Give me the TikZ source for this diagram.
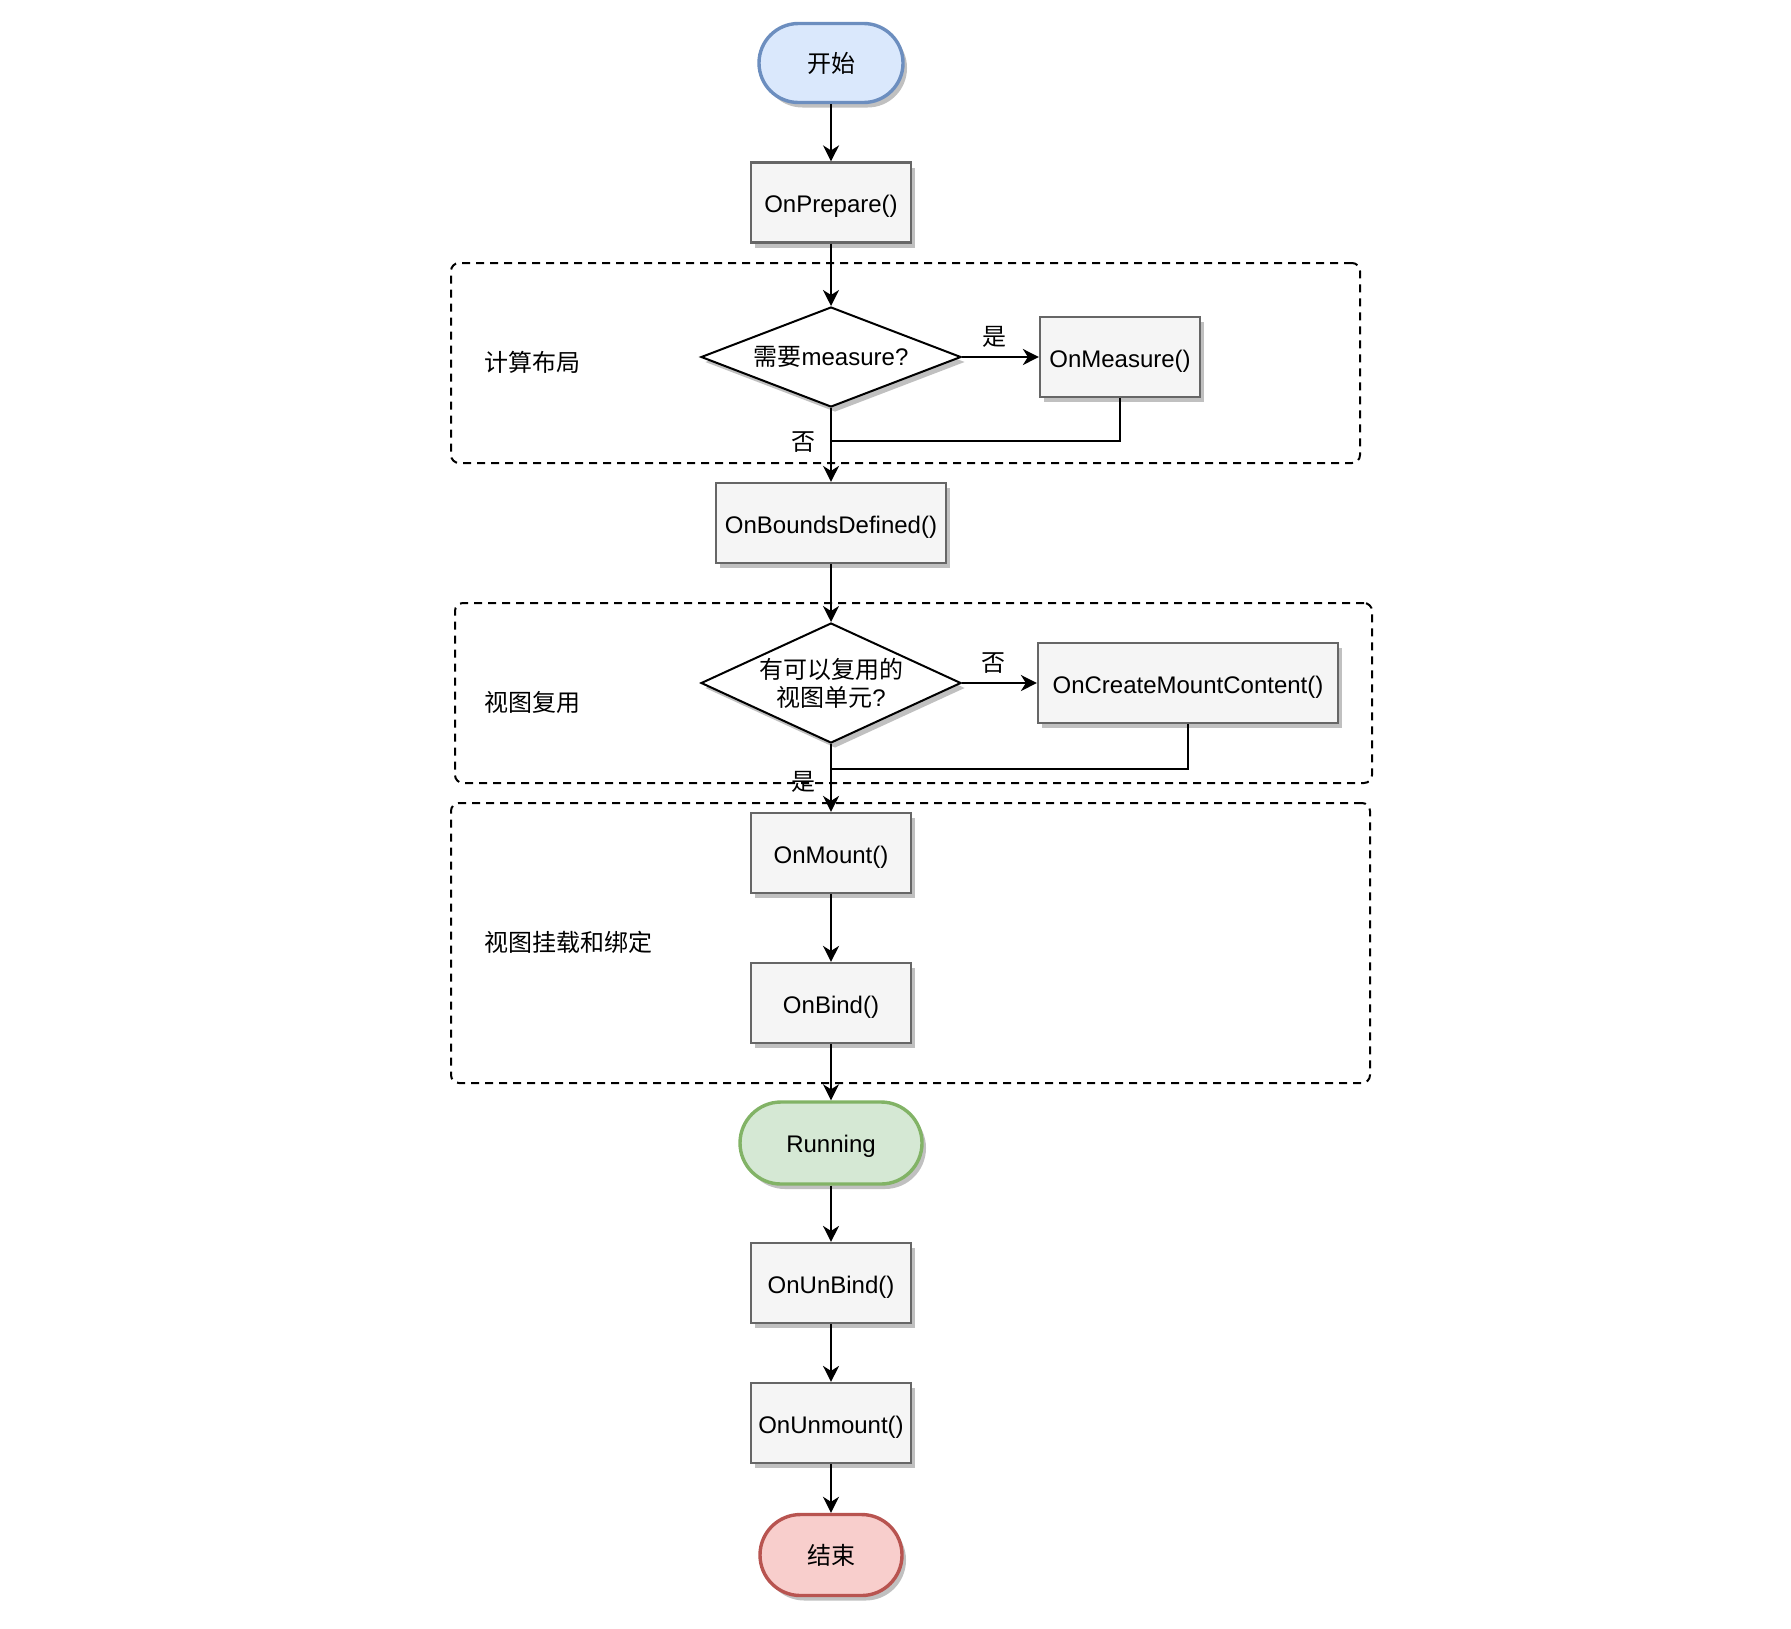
\documentclass[tikz,border=0pt]{standalone}
\usepackage{fontspec}
\setmainfont{Liberation Sans}
\newfontfamily\cjk{Noto Sans CJK SC}
\usetikzlibrary{arrows.meta,shadows,shapes.geometric}
\definecolor{bluefill}{HTML}{DAE8FC}
\definecolor{blueline}{HTML}{6C8EBF}
\definecolor{greenfill}{HTML}{D5E8D4}
\definecolor{greenline}{HTML}{82B366}
\definecolor{redfill}{HTML}{F8CECC}
\definecolor{redline}{HTML}{B85450}
\definecolor{boxfill}{HTML}{F5F5F5}
\definecolor{boxline}{HTML}{666666}
\definecolor{shadowc}{HTML}{C0C0C0}
\begin{document}
\begin{tikzpicture}[x=0.5pt,y=-0.5pt,
  txt/.style={font=\fontsize{12}{14}\selectfont},
  shad/.style={drop shadow={shadow xshift=2pt,shadow yshift=-2.5pt,fill=shadowc,opacity=1}},
  box/.style={txt,shad,draw=boxline,fill=boxfill,line width=1.1pt,minimum width=80pt,minimum height=40pt,inner sep=0pt,text height=10.5pt,text depth=0.5pt},
  term/.style={txt,shad,line width=1.7pt,minimum height=40pt,inner sep=0pt,rounded corners=20pt},
  diam/.style={shad,shape=diamond,draw=black,fill=white,line width=1pt,inner sep=0pt,minimum width=130pt},
  dtext/.style={txt,inner sep=0pt,align=center},
  grp/.style={draw=black,line width=1pt,dash pattern=on 4pt off 3pt,rounded corners=4pt,inner sep=0pt},
  grplab/.style={txt,anchor=west,inner sep=0pt},
  lab/.style={txt,inner sep=1pt},
  arr/.style={line width=1.1pt,-{Stealth[length=8pt,width=8pt,inset=2.5pt]}},
  ln/.style={line width=1.1pt}]
\useasboundingbox (0,0) rectangle (1791,1628);

% groups
\node[grp,minimum width=454.5pt,minimum height=100pt] (g1) at (905.5,363) {};
\node[grp,minimum width=458.5pt,minimum height=90pt] (g2) at (913.5,693) {};
\node[grp,minimum width=459.5pt,minimum height=140pt] (g3) at (910.5,943) {};
\node[grplab] (l1) at (484,362) {\cjk 计算布局};
\node[grplab] (l2) at (484,702) {\cjk 视图复用};
\node[grplab] (l3) at (484,942) {\cjk 视图挂载和绑定};

% nodes
\node[term,draw=blueline,fill=bluefill,minimum width=72pt,minimum height=39.5pt,rounded corners=19.7pt] (start) at (831,63) {\cjk 开始};
\node[box] (prep) at (831,202.5) {OnPrepare()};
\node[diam,minimum height=50pt,label={[dtext]center:{{\cjk 需要}measure?}}] (d1) at (831,357) {};
\node[box] (meas) at (1120,357) {OnMeasure()};
\node[box,minimum width=115pt] (bounds) at (831,523) {OnBoundsDefined()};
\node[diam,minimum height=60pt,label={[dtext]center:{{\cjk 有可以复用的}\\{\cjk 视图单元}?}}] (d2) at (831,683) {};
\node[box,minimum width=150pt] (ocmc) at (1188,683) {OnCreateMountContent()};
\node[box] (mount) at (831,853) {OnMount()};
\node[box] (bind) at (831,1003) {OnBind()};
\node[term,draw=greenline,fill=greenfill,minimum width=91pt,minimum height=41pt,rounded corners=20.5pt,text height=10pt,text depth=1pt] (run) at (831,1143) {Running};
\node[box] (unbind) at (831,1283) {OnUnBind()};
\node[box] (unmount) at (831,1423) {OnUnmount()};
\node[term,draw=redline,fill=redfill,minimum width=71pt,minimum height=40.5pt,rounded corners=20.2pt] (end) at (831,1555) {\cjk 结束};

\coordinate (j1) at (831,441);
\coordinate (j2) at (831,769);

% connectors
\draw[arr] (start) -- (prep);
\draw[arr] (prep) -- (d1);
\draw[arr] (d1.east) -- node[lab,above=3pt,pos=0.42] (ly1) {\cjk 是} (meas.west);
\draw[arr] (d1.south) -- node[lab,left=6pt,pos=0.46] (ln1) {\cjk 否} (bounds.north);
\draw[ln] (meas.south) |- (j1);
\draw[arr] (bounds) -- (d2);
\draw[arr] (d2.east) -- node[lab,above=3pt,pos=0.42] (ln2) {\cjk 否} (ocmc.west);
\draw[arr] (d2.south) -- node[lab,left=6pt,pos=0.56] (ly2) {\cjk 是} (mount.north);
\draw[ln] (ocmc.south) |- (j2);
\draw[arr] (mount) -- (bind);
\draw[arr] (bind) -- (run);
\draw[arr] (run) -- (unbind);
\draw[arr] (unbind) -- (unmount);
\draw[arr] (unmount) -- (end);
\end{tikzpicture}
\end{document}
